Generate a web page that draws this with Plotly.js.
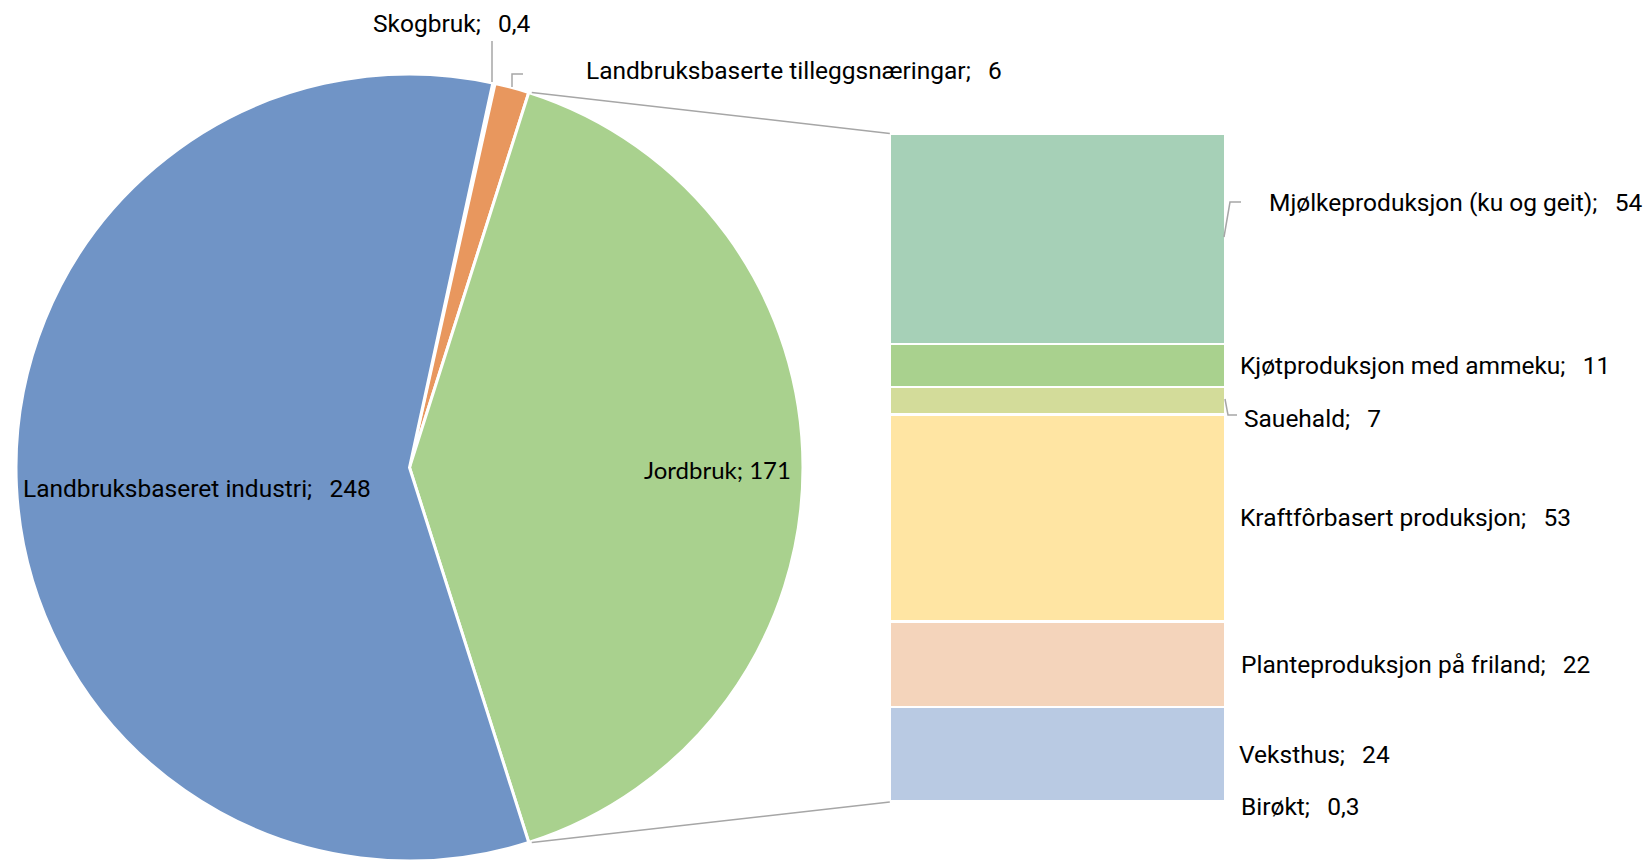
<!DOCTYPE html>
<html>
<head>
<meta charset="utf-8">
<script src="https://cdn.plot.ly/plotly-3.0.1.min.js"></script>
<style>html,body{margin:0;padding:0;background:#fff;}#chart{width:1650px;height:861px;}</style>
</head>
<body>
<div id="chart"></div>
<script>
// ---- data ----
const pieLabels = ['Skogbruk', 'Landbruksbaserte tilleggsnæringar', 'Jordbruk', 'Landbruksbaseret industri'];
const pieValues = [0.4, 6, 171, 248];
const pieColors = ['#A5A5A5', '#E8975E', '#A9D18E', '#7094C6'];

const barLabels = ['Mjølkeproduksjon (ku og geit)', 'Kjøtproduksjon med ammeku', 'Sauehald', 'Kraftfôrbasert produksjon', 'Planteproduksjon på friland', 'Veksthus', 'Birøkt'];
const barValues = [54, 11, 7, 53, 22, 24, 0.3];
const barColors = ['#A6D0B7', '#A9D18E', '#D3DC9A', '#FFE5A3', '#F4D4BB', '#B9CAE3', '#C9C9C9'];

// ---- geometry helpers ----
const W = 1650, H = 861;
const px = x => x / W;
const py = y => 1 - y / H;
const fmt = v => String(v).replace('.', ',');
const SEP = ';\u00A0\u00A0\u2009';

const pieDomX = [16.0 / W, 803.0 / W];
const pieDomY = [0, 1 - 74 / H];
const cx = (pieDomX[0] + pieDomX[1]) / 2 * W;
const R = Math.min((pieDomX[1] - pieDomX[0]) * W, (pieDomY[1] - pieDomY[0]) * H) / 2;
const cy = H - ((pieDomY[0] + pieDomY[1]) / 2) * H;

const pieTotal = pieValues.reduce((a, b) => a + b, 0);
const splitIdx = 2; // Jordbruk
const before = pieValues.slice(0, splitIdx).reduce((a, b) => a + b, 0);
const rotation = 90 - 360 * (before + pieValues[splitIdx] / 2) / pieTotal;

const barTotal = barValues.reduce((a, b) => a + b, 0);
const barDomX = [889.8 / W, 1225.3 / W];
const barDomY = [1 - 802 / H, 1 - 133.5 / H];

// bar traces stacked bottom-up (last category at the bottom)
const traces = [{
  type: 'pie', labels: pieLabels, values: pieValues, sort: false,
  direction: 'clockwise', rotation: rotation,
  marker: {colors: pieColors, line: {color: '#FFFFFF', width: 3}},
  textinfo: 'none', hoverinfo: 'label+value', showlegend: false,
  domain: {x: pieDomX, y: pieDomY}
}];
for (let i = barLabels.length - 1; i >= 0; i--) {
  traces.push({
    type: 'bar', x: [0], y: [barValues[i]], name: barLabels[i],
    marker: {color: barColors[i], line: {color: '#FFFFFF', width: 2.5}},
    width: 1, showlegend: false, hoverinfo: 'name+y', xaxis: 'x', yaxis: 'y'
  });
}

// connector lines from split slice edges to the bar corners
const a0 = rotation + 360 * before / pieTotal;
const a1 = a0 + 360 * pieValues[splitIdx] / pieTotal;
const pt = a => [cx + R * Math.sin(a * Math.PI / 180), cy - R * Math.cos(a * Math.PI / 180)];
const pTop = pt(a0), pBot = pt(a1);
const greyLine = {color: '#A6A6A6', width: 1.5};
const shapes = [
  {type: 'line', xref: 'paper', yref: 'paper', x0: px(pTop[0] + 3), y0: py(pTop[1]), x1: barDomX[0], y1: barDomY[1], line: greyLine},
  {type: 'line', xref: 'paper', yref: 'paper', x0: px(pBot[0] + 3), y0: py(pBot[1]), x1: barDomX[0], y1: barDomY[0], line: greyLine}
];
function poly(points) {
  return 'M' + points.map(p => px(p[0]) + ',' + py(p[1])).join(' L');
}
// leader lines
shapes.push({type: 'path', xref: 'paper', yref: 'paper', path: poly([[492, 41], [492, 82]]), line: greyLine});
shapes.push({type: 'path', xref: 'paper', yref: 'paper', path: poly([[523, 74], [512, 74], [512, 87]]), line: greyLine});
shapes.push({type: 'path', xref: 'paper', yref: 'paper', path: poly([[1224, 237], [1230, 202], [1241, 202]]), line: greyLine});
shapes.push({type: 'path', xref: 'paper', yref: 'paper', path: poly([[1225, 399], [1228, 415], [1237, 415]]), line: greyLine});

// annotations
const mainFont = {family: 'Roboto, "Noto Sans", sans-serif', size: 24.5, color: '#000000'};
const annotations = [];
const pieLabelPos = [[371, 24], [584, 70.5], [642, 470], [21, 488]];
pieLabels.forEach((lab, i) => {
  const isSplit = i === splitIdx;
  annotations.push({
    xref: 'paper', yref: 'paper', x: px(pieLabelPos[i][0]), y: py(pieLabelPos[i][1]),
    xanchor: 'left', yanchor: 'middle', showarrow: false,
    text: isSplit ? lab + '; ' + fmt(pieValues[i]) : lab + SEP + fmt(pieValues[i]),
    font: isSplit ? {family: 'Lato, "Open Sans", sans-serif', size: 24, color: '#000000'} : mainFont
  });
});
const barLabelX = [1267, 1238, 1242, 1238, 1239, 1237, 1239];
const barLabelShift = [36, 0, -18, 0, 0, 0, -5];
let cum = barTotal;
barLabels.forEach((lab, i) => {
  const mid = cum - barValues[i] / 2;
  cum -= barValues[i];
  annotations.push({
    xref: 'paper', yref: 'y', x: px(barLabelX[i]), y: mid, yshift: barLabelShift[i],
    xanchor: 'left', yanchor: 'middle', showarrow: false,
    text: lab + SEP + fmt(barValues[i]), font: mainFont
  });
});

const layout = {
  width: W, height: H, margin: {l: 0, r: 0, t: 0, b: 0},
  paper_bgcolor: '#FFFFFF', plot_bgcolor: 'rgba(0,0,0,0)',
  barmode: 'stack', bargap: 0,
  xaxis: {domain: barDomX, range: [-0.5, 0.5], visible: false, fixedrange: true},
  yaxis: {domain: barDomY, range: [0, barTotal], visible: false, fixedrange: true},
  shapes: shapes, annotations: annotations, showlegend: false
};
Plotly.newPlot('chart', traces, layout, {displayModeBar: false, staticPlot: true});
</script>
</body>
</html>
